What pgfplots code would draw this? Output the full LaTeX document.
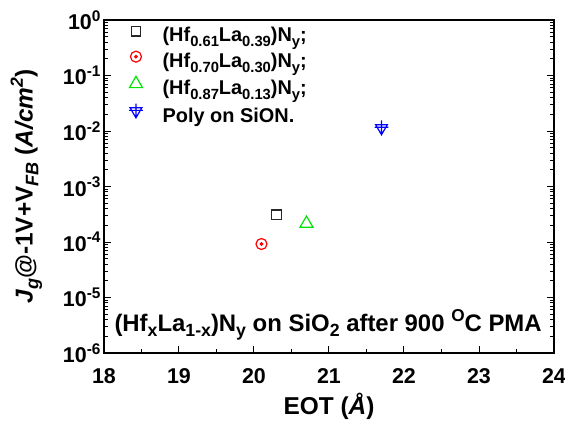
\documentclass[border=0pt]{standalone}
\usepackage{pgfplots}
\pgfplotsset{compat=1.18}
\usepackage{graphicx}
\usepackage{fontspec}
\setmainfont{Liberation Sans}
\usetikzlibrary{plotmarks}
\newcommand\subr[1]{\raisebox{-0.45ex}{\scalebox{0.74}{#1}}}
\newcommand\supr[1]{\raisebox{0.75ex}{\scalebox{0.72}{#1}}}
\pgfdeclareplotmark{cdot}{%
  \pgfpathcircle{\pgfpointorigin}{\pgfplotmarksize}\pgfusepathqstroke
  \pgfpathcircle{\pgfpointorigin}{0.22\pgfplotmarksize}\pgfusepathqfillstroke}
\pgfdeclareplotmark{tridownplus}{%
  \pgfpathmoveto{\pgfqpoint{-0.9\pgfplotmarksize}{0.55\pgfplotmarksize}}%
  \pgfpathlineto{\pgfqpoint{0.9\pgfplotmarksize}{0.55\pgfplotmarksize}}%
  \pgfpathlineto{\pgfqpoint{0pt}{-\pgfplotmarksize}}%
  \pgfpathclose
  \pgfpathmoveto{\pgfqpoint{0pt}{1.2\pgfplotmarksize}}%
  \pgfpathlineto{\pgfqpoint{0pt}{-\pgfplotmarksize}}%
  \pgfpathmoveto{\pgfqpoint{-1.05\pgfplotmarksize}{0.15\pgfplotmarksize}}%
  \pgfpathlineto{\pgfqpoint{1.05\pgfplotmarksize}{0.15\pgfplotmarksize}}%
  \pgfusepathqstroke}
\definecolor{mgreen}{RGB}{0,230,0}
\begin{document}
\begin{tikzpicture}
\begin{axis}[
  scale only axis,
  width=450bp, height=333bp,
  ymode=log,
  xmin=18, xmax=24, ymin=1e-6, ymax=1,
  xtick={18,19,20,21,22,23,24},
  minor x tick num=1,
  ytick={1e-6,1e-5,1e-4,1e-3,1e-2,1e-1,1},
  yticklabels={10\supr{-6},10\supr{-5},10\supr{-4},10\supr{-3},10\supr{-2},10\supr{-1},10\supr{0}},
  /pgf/number format/assume math mode=true,
  xtick pos=bottom, ytick pos=both,
  tick align=inside,
  major tick length=7bp, minor tick length=4bp,
  axis line style={line width=1.3bp},
  every tick/.style={line width=1bp, black},
  ticklabel style={font=\fontsize{21.5}{23}\selectfont\bfseries},
  xticklabel style={yshift=-12bp},
  xlabel={\bfseries EOT (\textit{Å})},
  ylabel={\bfseries \textit{J\subr{g}}@-1V+V\subr{\textit{FB}} (\textit{A/cm\supr{2}})},
  label style={font=\fontsize{24.5}{26}\selectfont},
  xlabel style={yshift=-3bp},
  ylabel style={yshift=14bp},
  legend style={draw=none, fill=none, at={(rel axis cs:0.04,0.99)}, anchor=north west,
    font=\fontsize{20}{22}\selectfont\bfseries, row sep=5.5bp,
    legend cell align=left},
  legend image code/.code={\path[draw=none] (0cm,0cm) -- (1.25cm,0cm);\draw plot coordinates {(0.38cm,0.15cm)};},
]
\addplot[only marks, mark=square, mark size=4.8bp, line width=1.2bp, black!85] coordinates {(20.3,3.1e-4)};
\addlegendentry{(Hf\subr{0.61}La\subr{0.39})N\subr{y};}
\addplot[only marks, mark=cdot, mark size=5.5bp, line width=1.2bp, red] coordinates {(20.1,9.2e-5)};
\addlegendentry{(Hf\subr{0.70}La\subr{0.30})N\subr{y};}
\addplot[only marks, mark=triangle, mark size=7.5bp, line width=1.2bp, mgreen] coordinates {(20.7,2.15e-4)};
\addlegendentry{(Hf\subr{0.87}La\subr{0.13})N\subr{y};}
\addplot[only marks, mark=tridownplus, mark size=6.5bp, line width=1.2bp, blue] coordinates {(21.7,1.12e-2)};
\addlegendentry{Poly on SiON.}
\node[font=\fontsize{24}{26}\selectfont\bfseries, anchor=center] at (rel axis cs:0.498,0.084)
  {(Hf\subr{x}La\subr{1-x})N\subr{y} on SiO\subr{2} after 900 \supr{O}C PMA};
\end{axis}
\pgfresetboundingbox
\useasboundingbox (current axis.south west) ++(-104bp,-70bp) rectangle ++(565bp,423bp);
\end{tikzpicture}
\end{document}
